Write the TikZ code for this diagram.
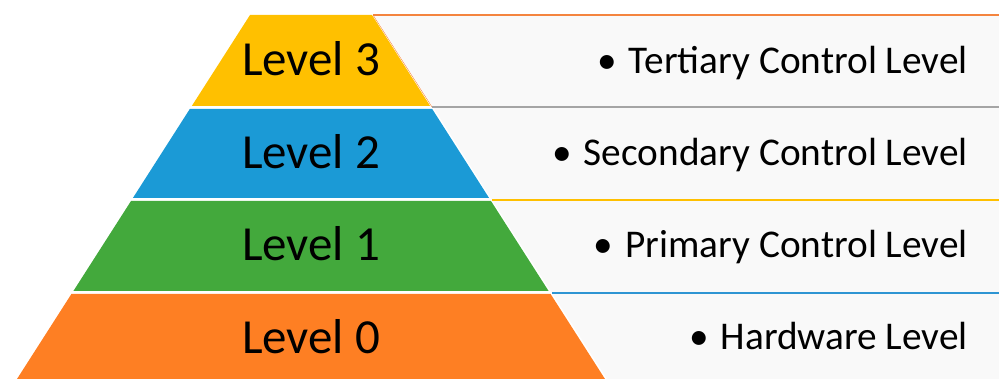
\documentclass[tikz,border=0pt]{standalone}
\usepackage{fontspec}
\setmainfont{Carlito}
\definecolor{cyel}{HTML}{FFC000}
\definecolor{cblue}{HTML}{1B9AD6}
\definecolor{cgreen}{HTML}{43A93C}
\definecolor{corange}{HTML}{FE7F23}
\definecolor{cpanel}{HTML}{F9F9F9}
\definecolor{lorange}{HTML}{F4843E}
\definecolor{lgray}{HTML}{A5A5A5}
\definecolor{lyellow}{HTML}{FFC000}
\definecolor{lblue}{HTML}{2E95D3}
\begin{document}
\begin{tikzpicture}[x=1pt,y=-1pt,
  lvl/.style={font=\fontsize{49}{55}\selectfont, anchor=base, inner sep=0pt},
  desc/.style={font=\fontsize{39.3}{45}\selectfont, anchor=base east, inner sep=0pt},
  panel/.style={fill=cpanel},
  topline/.style={line width=2pt}]
\useasboundingbox (0,0) rectangle (999,379);
% panels
\fill[panel] (374,15) -- (999,15) -- (999,107) -- (433,107) -- cycle;
\fill[panel] (433,107) -- (999,107) -- (999,200) -- (492,200) -- cycle;
\fill[panel] (492,200) -- (999,200) -- (999,293) -- (552,293) -- cycle;
\fill[panel] (552,293) -- (999,293) -- (999,379) -- (607,379) -- cycle;
\draw[lorange, line width=0.4pt] (373,15) -- (432,107);
\coordinate (t3a) at (373,15); \coordinate (t3b) at (999,15);
\coordinate (t2a) at (432,107); \coordinate (t2b) at (999,107);
\coordinate (t1a) at (492,200); \coordinate (t1b) at (999,200);
\coordinate (t0a) at (552,293); \coordinate (t0b) at (999,293);
\draw[topline, lorange] (t3a) -- (t3b);
\draw[topline, lgray] (t2a) -- (t2b);
\draw[topline, lyellow] (t1a) -- (t1b);
\draw[topline, lblue] (t0a) -- (t0b);
% pyramid
\fill[cyel] (250,15) -- (372,15) -- (430.2,106) -- (191.8,106) -- cycle;
\fill[cblue] (189.8,109) -- (432.2,109) -- (489.1,198) -- (132.9,198) -- cycle;
\fill[cgreen] (131,201) -- (491,201) -- (548.6,291) -- (73.4,291) -- cycle;
\fill[corange] (71.4,294) -- (550.6,294) -- (605,379) -- (17,379) -- cycle;
% labels
\node[lvl] (l3) at (311,76) {Level 3};
\node[lvl] (l2) at (311,169) {Level 2};
\node[lvl] (l1) at (311,261) {Level 1};
\node[lvl] (l0) at (311,354) {Level 0};
\node[desc] (d3) at (968,74) {•\hspace{0.3em}Tertiary Control Level};
\node[desc] (d2) at (968,166) {•\hspace{0.3em}Secondary Control Level};
\node[desc] (d1) at (968,258) {•\hspace{0.3em}Primary Control Level};
\node[desc] (d0) at (968,350) {•\hspace{0.3em}Hardware Level};
\end{tikzpicture}
\end{document}
